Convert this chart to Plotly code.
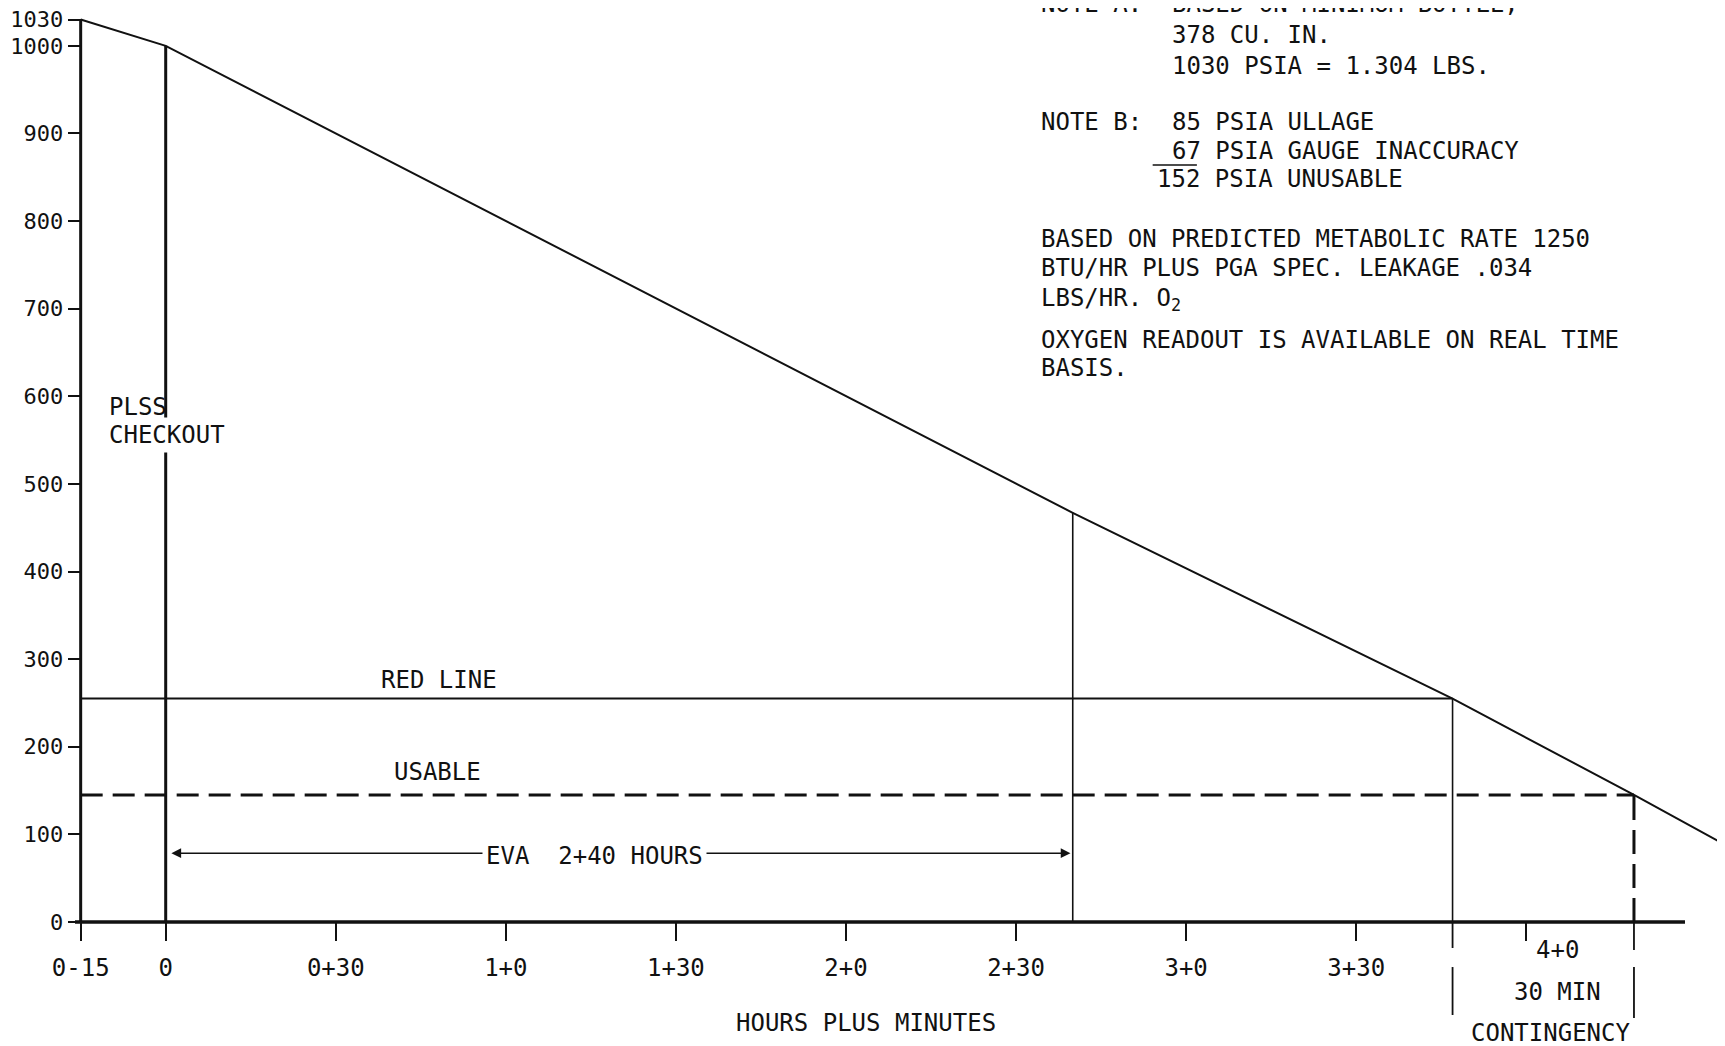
import plotly.graph_objects as go

# PLSS oxygen pressure over the EVA timeline (minutes from start of EVA)
time_min = [-15, 0, 160, 227, 259, 274]
o2_psia = [1030, 1000, 467, 255, 145, 92]

checkout_start = -15
eva_start = 0
eva_end = 160
redline_time = 227
usable_time = 259
axis_end = 268
red_line_psia = 255
usable_psia = 145

x_tickvals = [-15, 0, 30, 60, 90, 120, 150, 180, 210, 240]
x_ticktext = ["0-15", "0", "0+30", "1+0", "1+30", "2+0", "2+30", "3+0", "3+30", ""]
y_tickvals = [0, 100, 200, 300, 400, 500, 600, 700, 800, 900, 1000, 1030]

FONT = "DejaVu Sans Mono, Liberation Mono, monospace"
INK = "#111111"

# the page body adds an 8px offset, so the plot box is laid out 8px up/left
Y_RANGE = [-8, 1043.2]
Y0_PAPER = 8 / (Y_RANGE[1] - Y_RANGE[0])

fig = go.Figure()


def seg(xs, ys, width=2, dash="solid"):
    fig.add_trace(go.Scatter(
        x=xs, y=ys, mode="lines", hoverinfo="skip", showlegend=False,
        line=dict(color=INK, width=width, dash=dash)
    ))


# oxygen consumption curve
seg(time_min, o2_psia, width=2)
# y axis line and event lines
seg([checkout_start, checkout_start], [0, o2_psia[0]], width=3)
seg([eva_start, eva_start], [0, o2_psia[1]], width=3)
seg([eva_end, eva_end], [0, o2_psia[2]], width=1.6)
seg([redline_time, redline_time], [0, red_line_psia], width=1.6)
# red line and usable limit
seg([checkout_start, redline_time], [red_line_psia, red_line_psia], width=2)
seg([checkout_start, usable_time], [usable_psia, usable_psia], width=3, dash="22px,10px")
seg([usable_time, usable_time], [0, usable_psia], width=3, dash="24px,10px")
# x axis line
seg([-16, axis_end], [0, 0], width=3.5)

# contingency bracket below the axis
for xv, segs in [(redline_time, [(Y0_PAPER, -0.0206), (-0.0413, -0.0934)]),
                 (usable_time, [(Y0_PAPER, -0.0228), (-0.0413, -0.0966)])]:
    for y0, y1 in segs:
        fig.add_shape(type="line", xref="x", yref="paper", x0=xv, x1=xv, y0=y0, y1=y1,
                      line=dict(color=INK, width=1.8))

# overline in note B
fig.add_shape(type="line", xref="x", yref="y", x0=174.1, x1=181.9, y0=864, y1=864,
              line=dict(color=INK, width=1.5))

# EVA arrows
fig.add_annotation(x=1.0, y=78.5, ax=56.3, ay=78.5, xref="x", yref="y", axref="x", ayref="y",
                   text="", showarrow=True, arrowhead=2, arrowsize=1.3, arrowwidth=1.5,
                   arrowcolor=INK)
fig.add_annotation(x=159.6, y=78.5, ax=94.2, ay=78.5, xref="x", yref="y", axref="x", ayref="y",
                   text="", showarrow=True, arrowhead=2, arrowsize=1.3, arrowwidth=1.5,
                   arrowcolor=INK)


def label(text, x, y, anchor="center", xref="x", yref="y", size=24, bg=None):
    fig.add_annotation(x=x, y=y, xref=xref, yref=yref, text=text, showarrow=False,
                       xanchor=anchor, yanchor="middle", bgcolor=bg, borderpad=3,
                       font=dict(family=FONT, size=size, color=INK))


label("EVA  2+40 HOURS", 75.6, 75, bg="white")
label("RED LINE", 48.2, 276)
label("USABLE", 48.0, 171.5)
label("PLSS", -10.7, 587.8, anchor="left")
label("CHECKOUT", -10.7, 555.8, anchor="left", bg="white")

# notes
label("NOTE A:", 153.7, 1.0043, anchor="left", yref="paper")
label("BASED ON MINIMUM BOTTLE,", 176.8, 1.0043, anchor="left", yref="paper")
label("378 CU. IN.", 176.8, 1012, anchor="left")
label("1030 PSIA = 1.304 LBS.", 176.8, 977, anchor="left")
label("NOTE B:", 153.7, 913, anchor="left")
label("85 PSIA ULLAGE", 176.8, 913, anchor="left")
label("67 PSIA GAUGE INACCURACY", 176.8, 880, anchor="left")
label("152 PSIA UNUSABLE", 174.2, 847.6, anchor="left")
label("BASED ON PREDICTED METABOLIC RATE 1250", 153.7, 780, anchor="left")
label("BTU/HR PLUS PGA SPEC. LEAKAGE .034", 153.7, 747, anchor="left")
label("LBS/HR. O<sub>2</sub>", 153.7, 710, anchor="left")
label("OXYGEN READOUT IS AVAILABLE ON REAL TIME", 153.7, 664, anchor="left")
label("BASIS.", 153.7, 632, anchor="left")

# labels below the axis
label("4+0", 245.5, -0.0228, yref="paper")
label("30 MIN", 245.5, -0.0681, yref="paper")
label("CONTINGENCY", 244.3, -0.1129, yref="paper")
label("HOURS PLUS MINUTES", 123.5, -0.1021, yref="paper")

fig.update_layout(
    width=1725, height=1046,
    margin=dict(l=67, r=14, t=0, b=125, pad=0, autoexpand=False),
    paper_bgcolor="white", plot_bgcolor="white",
    showlegend=False,
    font=dict(family=FONT, size=24, color=INK),
    xaxis=dict(
        range=[-16, 274], tickvals=x_tickvals, ticktext=x_ticktext,
        ticks="outside", ticklen=18, tickwidth=2, tickcolor=INK,
        ticklabelstandoff=6, ticklabeloverflow="allow",
        showgrid=False, zeroline=False, showline=False,
        anchor="free", position=Y0_PAPER, automargin=False,
        tickfont=dict(family=FONT, size=24, color=INK)
    ),
    yaxis=dict(
        range=Y_RANGE, tickvals=y_tickvals,
        ticks="outside", ticklen=13, tickwidth=2, tickcolor=INK,
        ticklabelstandoff=0, ticklabeloverflow="allow",
        showgrid=False, zeroline=False, showline=False,
        anchor="free", position=1 / 290, automargin=False,
        tickfont=dict(family=FONT, size=22, color=INK)
    ),
)

fig.write_html("out.html")
